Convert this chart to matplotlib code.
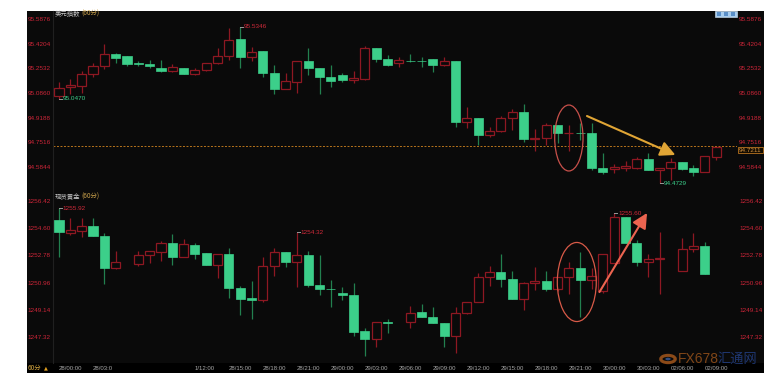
import matplotlib
matplotlib.use('Agg')
import matplotlib.pyplot as plt
from matplotlib.patches import Ellipse, Rectangle, Circle
import numpy as np

plt.rcParams['font.family'] = ['Liberation Sans', 'Noto Sans CJK SC', 'DejaVu Sans']

# ---------------- data ----------------
usd_open = [95.068, 95.125, 95.136, 95.215, 95.269, 95.348, 95.335, 95.289, 95.283, 95.256,
            95.235, 95.258, 95.215, 95.240, 95.287, 95.339, 95.450, 95.330, 95.371, 95.220,
            95.115, 95.160, 95.305, 95.254, 95.193, 95.206, 95.172, 95.179, 95.389, 95.319,
            95.287, 95.305, 95.305, 95.314, 95.274, 95.301, 94.892, 94.915, 94.799, 94.828,
            94.915, 94.955, 94.774, 94.783, 94.867, 94.815, 94.816, 94.813, 94.580, 94.570,
            94.580, 94.580, 94.637, 94.564, 94.576, 94.618, 94.578, 94.549, 94.655]
usd_high = [95.159, 95.179, 95.233, 95.291, 95.420, 95.355, 95.335, 95.303, 95.308, 95.308,
            95.281, 95.258, 95.258, 95.291, 95.393, 95.529, 95.5346, 95.400, 95.371, 95.276,
            95.224, 95.305, 95.389, 95.254, 95.276, 95.222, 95.233, 95.405, 95.389, 95.346,
            95.328, 95.348, 95.328, 95.314, 95.328, 95.301, 94.989, 94.915, 94.853, 94.930,
            94.976, 95.011, 94.842, 94.885, 94.867, 94.867, 94.885, 94.880, 94.677, 94.605,
            94.625, 94.655, 94.677, 94.578, 94.644, 94.618, 94.596, 94.659, 94.7211]
usd_low = [95.0470, 95.080, 95.088, 95.197, 95.247, 95.287, 95.267, 95.271, 95.258, 95.231,
           95.228, 95.215, 95.208, 95.237, 95.281, 95.310, 95.258, 95.303, 95.193, 95.081,
           95.115, 95.084, 95.206, 95.081, 95.125, 95.159, 95.152, 95.172, 95.296, 95.271,
           95.264, 95.296, 95.262, 95.228, 95.269, 94.858, 94.851, 94.734, 94.786, 94.820,
           94.835, 94.752, 94.695, 94.734, 94.746, 94.695, 94.768, 94.562, 94.537, 94.542,
           94.559, 94.569, 94.562, 94.4729, 94.496, 94.567, 94.525, 94.549, 94.632]
usd_close = [95.118, 95.140, 95.215, 95.267, 95.348, 95.325, 95.285, 95.280, 95.271, 95.235,
             95.262, 95.217, 95.244, 95.289, 95.335, 95.447, 95.330, 95.366, 95.222, 95.115,
             95.167, 95.305, 95.254, 95.193, 95.170, 95.174, 95.188, 95.389, 95.314, 95.278,
             95.308, 95.303, 95.302, 95.274, 95.301, 94.892, 94.915, 94.799, 94.828, 94.915,
             94.955, 94.774, 94.783, 94.867, 94.813, 94.815, 94.813, 94.580, 94.551, 94.586,
             94.589, 94.637, 94.562, 94.578, 94.618, 94.573, 94.549, 94.659, 94.7211]

nan = float('nan')
gold_open = [1255.15, 1254.26, 1254.43, 1254.75, 1254.10, 1251.92, nan, 1252.20, 1252.81, 1253.01,
             1253.63, 1252.67, 1253.48, 1252.92, 1252.12, 1252.87, 1250.62, 1249.91, 1249.80, 1252.05,
             1252.99, 1252.32, 1252.81, 1250.80, 1250.53, 1250.26, 1250.13, 1247.72, 1247.17, 1248.30,
             nan, 1248.30, 1248.97, 1248.64, 1248.28, 1247.41, 1248.91, 1249.68, 1251.31, 1251.69,
             1251.18, 1249.88, 1250.91, 1251.09, 1250.53, 1251.36, 1251.96, 1251.13, 1250.42, 1252.29,
             1255.37, 1253.63, 1252.32, 1252.56, nan, 1251.74, 1253.21, 1253.43]
gold_high = [1255.92, 1255.26, 1255.26, 1255.26, 1254.30, 1253.07, nan, 1253.07, 1253.07, 1253.76,
             1254.19, 1253.88, 1253.59, 1252.92, 1252.89, 1253.26, 1250.75, 1251.09, 1252.69, 1253.30,
             1252.99, 1254.32, 1253.07, 1252.81, 1251.14, 1250.69, 1250.91, 1247.90, 1248.35, 1248.53,
             nan, 1249.42, 1249.51, 1249.31, 1248.28, 1249.35, 1249.68, 1251.58, 1252.07, 1252.85,
             1251.74, 1251.00, 1251.98, 1251.74, 1251.36, 1252.36, 1253.03, 1251.96, 1252.85, 1255.60,
             1255.37, 1253.83, 1252.85, 1254.37, nan, 1253.96, 1254.30, 1253.70]
gold_low = [1252.69, 1254.15, 1254.03, 1254.08, 1250.85, 1251.85, nan, 1252.05, 1252.25, 1252.41,
            1252.16, 1252.67, 1252.52, 1252.12, 1251.25, 1249.91, 1248.79, 1248.50, 1249.68, 1251.40,
            1251.98, 1250.69, 1250.69, 1250.13, 1249.31, 1249.80, 1247.39, 1246.07, 1246.63, 1247.61,
            nan, 1247.90, 1248.64, 1248.28, 1246.67, 1246.27, 1248.84, 1249.68, 1250.75, 1250.69,
            1249.84, 1249.13, 1250.46, 1250.40, 1250.40, 1250.18, 1248.68, 1250.53, 1250.25, 1252.29,
            1253.63, 1252.10, 1251.36, 1250.18, nan, 1251.74, 1253.03, 1251.54]
gold_close = [1254.37, 1254.48, 1254.75, 1254.08, 1251.94, 1252.32, nan, 1252.79, 1253.07, 1253.63,
              1252.69, 1253.52, 1252.89, 1252.12, 1252.89, 1250.60, 1249.84, 1249.80, 1252.07, 1252.99,
              1252.32, 1252.83, 1250.80, 1250.53, 1250.51, 1250.12, 1247.67, 1247.17, 1248.35, 1248.27,
              nan, 1248.95, 1248.64, 1248.28, 1247.39, 1248.91, 1249.68, 1251.31, 1251.69, 1251.18,
              1249.88, 1250.91, 1251.09, 1250.53, 1251.36, 1251.96, 1251.13, 1251.40, 1252.85, 1255.37,
              1253.63, 1252.32, 1252.54, 1252.56, nan, 1253.19, 1253.43, 1251.54]

usd_ticks = [95.5876, 95.4204, 95.2532, 95.0860, 94.9188, 94.7516, 94.5844]
gold_ticks = [1256.42, 1254.60, 1252.78, 1250.96, 1249.14, 1247.32]
x_tick_pos = [0, 3, 12, 15, 18, 21, 24, 27, 30, 33, 36, 39, 42, 45, 48, 51, 54, 57]
x_tick_labels = ["28/00:00", "28/03:0", "1/12:00", "28/15:00", "28/18:00", "28/21:00",
                 "29/00:00", "29/03:00", "29/06:00", "29/09:00", "29/12:00", "29/15:00",
                 "29/18:00", "29/21:00", "30/00:00", "30/03:00", "02/06:00", "02/09:00"]
current_price = "94.7211"

# ---------------- style ----------------
BG = '#0a0a0a'
GREEN = '#3ccf8a'
GREEN_W = '#22804f'
RED_E = '#8e1822'
RED_W = '#8e1822'
TICK_RED = '#cc2538'
XLAB = '#a8a8a8'
W, H = 764, 384
CJK = ['Noto Sans CJK SC', 'DejaVu Sans']

fig = plt.figure(figsize=(W / 100, H / 100), dpi=100)
fig.patch.set_facecolor('white')


def fx(x):
    return x / W


def fy(y):
    return 1 - y / H


# black chart background and bottom time bar (behind the axes)
fig.patches.append(Rectangle((fx(27), fy(373)), fx(764) - fx(27), fy(11) - fy(373),
                             transform=fig.transFigure, facecolor=BG, edgecolor='none', zorder=-10))
fig.patches.append(Rectangle((fx(27), fy(373)), fx(764) - fx(27), fy(363) - fy(373),
                             transform=fig.transFigure, facecolor='#000000', edgecolor='none', zorder=-9))

ax1 = fig.add_axes([fx(53), fy(193), fx(737) - fx(53), fy(11) - fy(193)])
ax2 = fig.add_axes([fx(53), fy(363), fx(737) - fx(53), fy(193) - fy(363)])
for ax in (ax1, ax2):
    ax.set_zorder(1)

xl = (-0.53, 59.84)
ax1.set_xlim(*xl)
ax2.set_xlim(*xl)
ax1.set_ylim(94.4082, 95.6418)
ax2.set_ylim(1245.58, 1256.955)


def candles(ax, o, h, l, c, tiny):
    o = np.array(o, float); h = np.array(h, float); l = np.array(l, float); c = np.array(c, float)
    idx = np.arange(len(o))
    ok = ~np.isnan(o)
    up = ok & (c >= o)
    dn = ok & (c < o)
    ax.vlines(idx[up], l[up], h[up], color=RED_W, lw=0.9, zorder=2)
    ax.vlines(idx[dn], l[dn], h[dn], color=GREEN_W, lw=0.9, zorder=2)
    hu = np.maximum(np.abs(c[up] - o[up]), tiny)
    ax.bar(idx[up], hu, 0.8, np.minimum(o[up], c[up]), facecolor=BG, edgecolor=RED_E,
           lw=0.9, zorder=3)
    hd = np.maximum(np.abs(c[dn] - o[dn]), tiny)
    ax.bar(idx[dn], hd, 0.8, c[dn], facecolor=GREEN, edgecolor=GREEN, lw=0.5, zorder=3)


candles(ax1, usd_open, usd_high, usd_low, usd_close, 0.002)
candles(ax2, gold_open, gold_high, gold_low, gold_close, 0.02)

for ax, ticks, fmt in ((ax1, usd_ticks, '{:.4f}'), (ax2, gold_ticks, '{:.2f}')):
    ax.set_facecolor('none')
    ax.set_yticks(ticks)
    ax.set_yticklabels([fmt.format(t) for t in ticks])
    ax.tick_params(axis='y', length=0, labelsize=4.6, labelcolor=TICK_RED,
                   left=True, right=True, labelleft=True, labelright=True, pad=1.5)
    for s in ('top', 'right', 'bottom'):
        ax.spines[s].set_visible(False)
    ax.spines['left'].set_color('#202020')
    ax.spines['left'].set_linewidth(0.8)

ax1.set_xticks([])
ax2.set_xticks(x_tick_pos)
ax2.set_xticklabels(x_tick_labels)
ax2.tick_params(axis='x', length=0, labelsize=4.3, labelcolor=XLAB, pad=1.8)
for lab in ax2.get_xticklabels():
    lab.set_ha('left')

# last price dashed line
ax1.axhline(usd_close[-1] + 0.006, color='#b8741c', lw=0.7, dashes=(2, 1.6), zorder=1)


# high/low markers
def mark(ax, i, val, txt, color, dx=0.28):
    ax.plot([i, i + dx], [val, val], color='#9a9a9a', lw=0.7, zorder=4)
    ax.annotate(txt, (i + dx, val), xytext=(0.5, 0), textcoords='offset points',
                ha='left', va='center', fontsize=4.6, color=color, zorder=5)


mark(ax1, 16, usd_high[16], '95.5346', '#d02a3a')
mark(ax1, 0, usd_low[0], '95.0470', '#3ccf8a')
mark(ax1, 53, usd_low[53], '94.4729', '#3ccf8a')
mark(ax2, 0, gold_high[0], '1255.92', '#d02a3a')
mark(ax2, 21, gold_high[21], '1254.32', '#d02a3a')
mark(ax2, 49, gold_high[49], '1255.60', '#d02a3a')

# annotations: ellipses & arrows
ax1.add_patch(Ellipse((45, 94.781), 2.5, 0.447, fill=False, edgecolor='#c8504a', lw=0.9, zorder=6))
ax1.annotate('', xy=(54.4, 94.666), xytext=(46.6, 94.930),
             arrowprops=dict(arrowstyle='-|>,head_length=0.9,head_width=0.45', color='#e0a535',
                             lw=1.5, shrinkA=0, shrinkB=0), zorder=6)
ax2.add_patch(Ellipse((45.7, 1251.0), 3.44, 5.29, fill=False, edgecolor='#d85a48', lw=0.9, zorder=6))
ax2.annotate('', xy=(51.9, 1255.62), xytext=(47.7, 1250.33),
             arrowprops=dict(arrowstyle='-|>,head_length=0.9,head_width=0.45', color='#ec6450',
                             lw=1.5, shrinkA=0, shrinkB=0), zorder=6)

# panel titles
for ytop, name in ((14, '美元指数'), (197, '现货黄金')):
    t = fig.text(fx(55), fy(ytop), name, fontsize=4.6, color='#c8c8c8', va='center', ha='left',
                 family=CJK, zorder=5)
    fig.texts.append(matplotlib.text.Annotation('(60分)', xy=(1, 0.5), xycoords=t,
                                                xytext=(0.3, 0), textcoords='offset points',
                                                fontsize=4.6, color='#c9a04a', va='center',
                                                ha='left', family=CJK, zorder=5))
    fig.texts[-1].set_figure(fig)

# bottom-left period label
fig.text(fx(28), fy(368), '60分', fontsize=4.6, color='#d4a640', va='center', ha='left',
         family=CJK, zorder=5)
fig.text(fx(44), fy(368), '▲', fontsize=3.6, color='#e0a020', va='center', ha='left',
         family=['DejaVu Sans'], zorder=5)

# current price box
fig.text(fx(739), fy(150), current_price, fontsize=4.6, color='#d09040', va='center', ha='left',
         zorder=5,
         bbox=dict(boxstyle='square,pad=0.15', facecolor='#140c00', edgecolor='#b87420', lw=0.6))

# top-right tool icons
fig.patches.append(Rectangle((fx(715), fy(17)), fx(22), fy(11) - fy(17), transform=fig.transFigure,
                             facecolor='#a8cdee', edgecolor='#d8eaf8', lw=0.4, zorder=3))
for xi in (717, 724, 731):
    fig.patches.append(Rectangle((fx(xi), fy(16)), fx(4), fy(12) - fy(16), transform=fig.transFigure,
                                 facecolor='#5a8fc8', edgecolor='none', zorder=4))

# watermark
fig.patches.append(Circle((fx(668), fy(359)), 0.0095, transform=fig.transFigure, fill=False,
                          edgecolor='#b8601e', lw=2.2, alpha=0.75, zorder=3))
fig.patches.append(Circle((fx(668), fy(359)), 0.0035, transform=fig.transFigure,
                          facecolor='#3a5c9a', edgecolor='none', alpha=0.8, zorder=3))
fig.text(fx(678), fy(359), 'FX678', fontsize=10, color='#a85a1c', alpha=0.75, va='center',
         ha='left', family=['Liberation Sans'], zorder=3)
fig.text(fx(718), fy(359), '汇通网', fontsize=9.5, color='#24428a', alpha=0.8, va='center',
         ha='left', family=CJK, zorder=3)

fig.savefig('out.png', dpi=100, facecolor='white')
